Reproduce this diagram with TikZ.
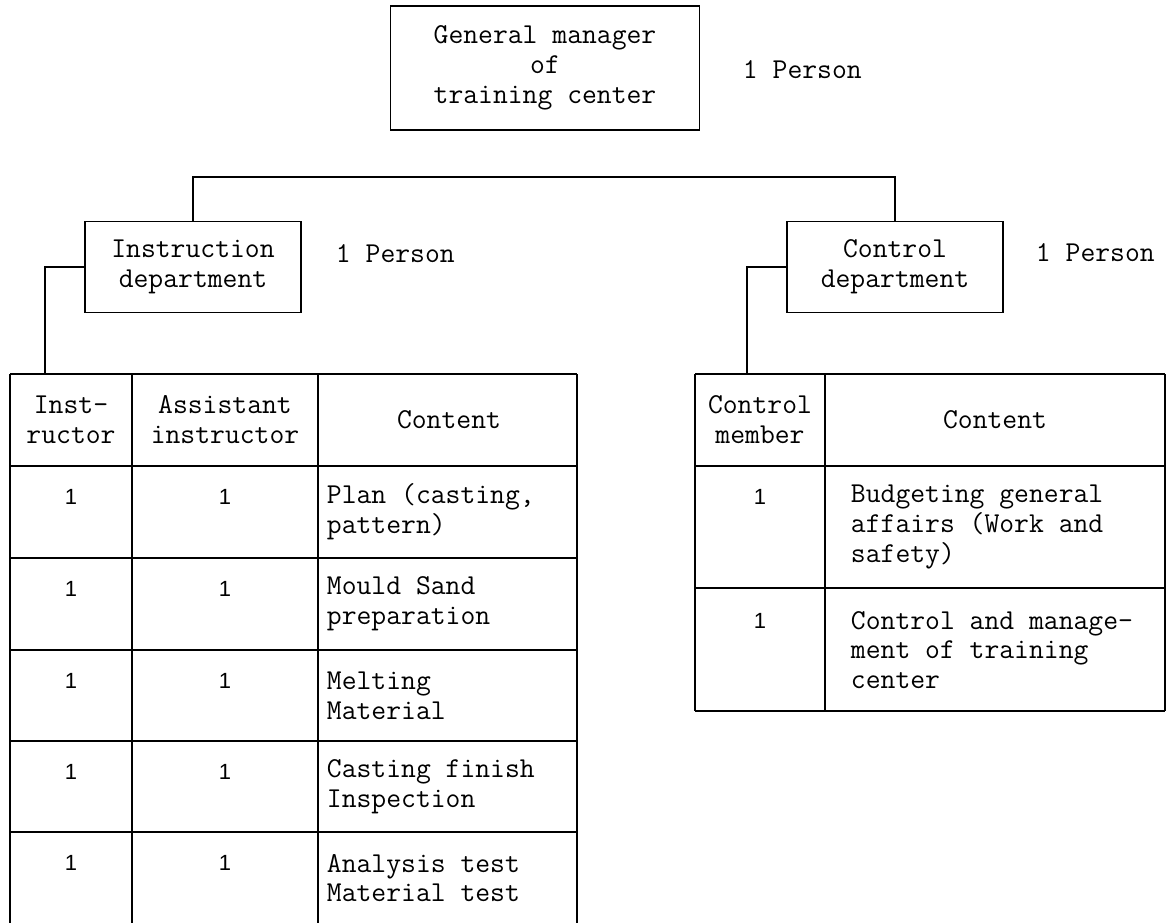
\documentclass[tikz,border=0pt]{standalone}
\usepackage{fontspec}
\newfontfamily\numfont{Liberation Sans}
\usetikzlibrary{positioning,calc}

\begin{document}
\begin{tikzpicture}[x=0.2mm, y=-0.2mm, line width=1.1pt,
  every node/.style={font=\fontsize{16.4pt}{17pt}\ttfamily\selectfont},
  box/.style={draw, align=center, inner sep=0pt, line width=1.1pt},
  lbl/.style={anchor=west, inner sep=0pt},
  head/.style={align=center, inner sep=0pt},
  cell/.style={anchor=west, align=left, inner sep=0pt},
  num/.style={inner sep=0pt, font=\fontsize{12.5pt}{14pt}\numfont\selectfont}]

\useasboundingbox (0,0) rectangle (1168,923);

\node[box, minimum width=61.8mm, minimum height=24.8mm] (gm) at (545,68) {General manager\\of\\training center};
\node[lbl] (gmp) at (742,70) {1 Person};

\node[box, minimum width=43.2mm, minimum height=18.2mm] (instr) at (193,267) {Instruction\\department};
\node[lbl] (instrp) at (335,254) {1 Person};
\node[box, minimum width=43.2mm, minimum height=18.2mm] (ctrl) at (895,267) {Control\\department};
\node[lbl] (ctrlp) at (1035,253) {1 Person};

\coordinate (bus) at (543,177);
\coordinate (itab) at (45,374);
\coordinate (ctab) at (747,374);
\draw (instr.north) |- (bus) -| (ctrl.north);
\draw (instr.west) -| (itab);
\draw (ctrl.west) -| (ctab);

% instruction table
\foreach \y in {374,466,558,650,741,832} \draw (10,\y) -- (577,\y);
\foreach \x in {10,132,318,577} \draw (\x,374) -- (\x,923);
\node[head] (ih1) at (71,420) {Inst-\\ructor};
\node[head] (ih2) at (225,420) {Assistant\\instructor};
\node[head] (ih3) at (449,420) {Content};
\foreach \y/\txt [count=\i] in {466/{Plan (casting,\\pattern)}, 558/{Mould Sand\\preparation},
  650/{Melting\\Material}, 741/{Casting finish\\Inspection}, 832/{Analysis test\\Material test}} {
  \node[cell] (ic\i) at (326,\y+46) {\txt};
  \node[num] (ia\i) at (71,\y+31) {1};
  \node[num] (ib\i) at (225,\y+31) {1};
}

% control table
\foreach \y in {374,466,588,711} \draw (695,\y) -- (1165,\y);
\foreach \x in {695,825,1165} \draw (\x,374) -- (\x,711);
\node[head] (ch1) at (760,420) {Control\\member};
\node[head] (ch2) at (995,420) {Content};
\node[cell] (cc1) at (850,527) {Budgeting general\\affairs (Work and\\safety)};
\node[num] (ca1) at (760,497) {1};
\node[cell] (cc2) at (850,650) {Control and manage-\\ment of training\\center};
\node[num] (ca2) at (760,621) {1};
\end{tikzpicture}
\end{document}
